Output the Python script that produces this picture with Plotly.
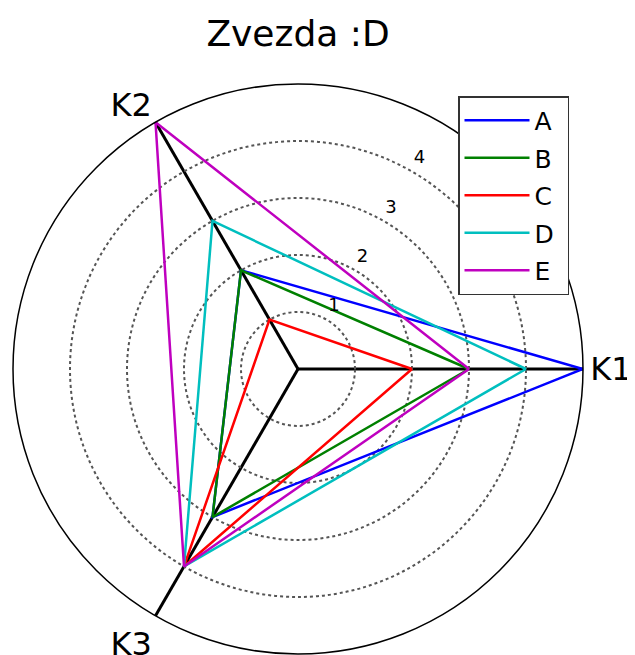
import plotly.graph_objects as go

# axis names and series values (K1, K2, K3)
kriteriji = ["K1", "K2", "K3"]
serije = ["A", "B", "C", "D", "E"]
vrednosti = {
    "A": [5, 2, 3],
    "B": [3, 2, 3],
    "C": [2, 1, 4],
    "D": [4, 3, 4],
    "E": [3, 5, 4],
}
radialni_tiki = [1, 2, 3, 4]

barve = {
    "A": "#0000ff",
    "B": "#008000",
    "C": "#ff0000",
    "D": "#00bfbf",
    "E": "#bf00bf",
}
koti = [0, 120, 240]

fig = go.Figure()
for s in serije:
    r = vrednosti[s] + vrednosti[s][:1]
    fig.add_trace(go.Scatterpolar(
        r=r,
        theta=koti + koti[:1],
        mode="lines",
        name=s + "\u00a0",  # a bit of room to the legend frame
        legendgroup=s,
        line=dict(color=barve[s], width=2.5),
    ))

# radial tick labels sit just outside each ring along the 60 deg ray
fig.add_trace(go.Scatterpolar(
    r=[t + 0.26 for t in radialni_tiki],
    theta=[60] * len(radialni_tiki),
    mode="text",
    text=[str(t) for t in radialni_tiki],
    textfont=dict(size=18, color="black", family="DejaVu Sans"),
    showlegend=False,
    hoverinfo="skip",
))

# the page body has an 8px margin, so work in shifted coordinates
OFF = 8
W, H = 635 - OFF, 655 - OFF
cx, cy, R = 298 - OFF, 369 - OFF, 285

fig.update_layout(
    width=W, height=H,
    margin=dict(l=0, r=0, t=0, b=0),
    paper_bgcolor="white",
    font=dict(family="DejaVu Sans", color="black"),
    title=dict(text="Zvezda :D", x=cx / W, xanchor="center",
               y=1 - (33 - OFF) / H, yanchor="middle",
               font=dict(size=36, family="DejaVu Sans", color="black")),
    polar=dict(
        domain=dict(x=[(cx - R) / W, (cx + R) / W],
                    y=[1 - (cy + R) / H, 1 - (cy - R) / H]),
        bgcolor="white",
        radialaxis=dict(
            range=[0, 5], tickvals=radialni_tiki, showticklabels=False,
            angle=60, showline=False, ticks="",
            gridcolor="#555555", griddash="dot", gridwidth=1.5,
        ),
        angularaxis=dict(
            tickmode="array", tickvals=koti, ticktext=kriteriji,
            direction="counterclockwise", rotation=0,
            showline=True, linecolor="black", linewidth=1.5,
            gridcolor="black", gridwidth=2.5, ticks="",
            tickfont=dict(size=32, color="black"),
        ),
    ),
    legend=dict(
        x=(458 - OFF) / W, y=1 - (96 - OFF) / H, xanchor="left", yanchor="top",
        bgcolor="white", bordercolor="#333333", borderwidth=1.5,
        font=dict(size=25, color="black"),
        itemwidth=65, tracegroupgap=2,
    ),
)

fig.write_html("out.html")
